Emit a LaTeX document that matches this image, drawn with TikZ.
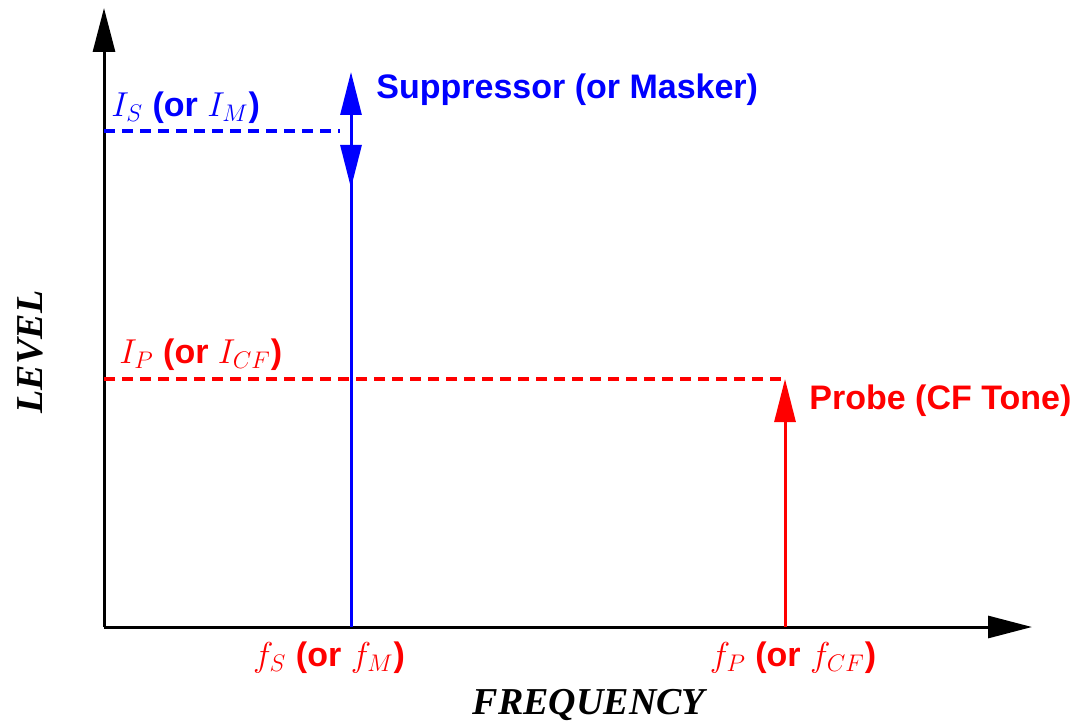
\documentclass[tikz,border=0pt]{standalone}
\usepackage{fontspec}
\usepackage{amsmath}
\setmainfont{Liberation Sans}
\newfontfamily\axisfont{Liberation Serif}
\usetikzlibrary{arrows.meta}

\definecolor{supblue}{RGB}{0,0,255}
\definecolor{probered}{RGB}{255,0,0}

\begin{document}
\begin{tikzpicture}[
  x=0.5pt, y=-0.5pt,
  axis/.style   = {line width=1.5pt, -{Triangle[length=22pt, width=11pt]}},
  tone/.style   = {line width=1.5pt, -{Triangle[length=21.5pt, width=10.5pt]}},
  level/.style  = {line width=1.6pt, dash pattern=on 5.5pt off 3.5pt},
  lbl/.style    = {font=\fontsize{17}{19}\selectfont\bfseries, inner sep=0pt},
  axlbl/.style  = {font=\fontsize{19}{21}\selectfont\axisfont\bfseries\itshape, inner sep=0pt},
]
\useasboundingbox (0,0) rectangle (1074,721);

% ---- axes ----
\coordinate (origin) at (104,627);
\coordinate (ytop)   at (104,8);
\coordinate (xend)   at (1032,627);
\draw[axis] (origin) -- (ytop);
\draw[axis] (origin) -- (xend);

% ---- suppressor (masker) ----
\coordinate (sbase) at (351,627);
\coordinate (stop)  at (351,72);
\coordinate (sdown) at (351,188);
\coordinate (slev)  at (104,131);
\coordinate (slevend) at (340,131);
\draw[tone, supblue] (sbase) -- (stop);
\draw[tone, supblue] (351,140) -- (sdown);
\draw[level, supblue] (slev) -- (slevend);

% ---- probe (CF tone) ----
\coordinate (pbase) at (785,627);
\coordinate (ptop)  at (785,379);
\coordinate (plev)  at (104,379);
\draw[tone, probered] (pbase) -- (ptop);
\draw[level, probered] (plev) -- (ptop);

% ---- labels ----
\node[lbl, supblue, anchor=west] (supname) at (376,90) {Suppressor (or Masker)};
\node[lbl, supblue, anchor=west] (suplev)  at (111,108) {$I_S$ (or $I_M$)};
\node[lbl, probered, anchor=west] (prbname) at (809,401) {Probe (CF Tone)};
\node[lbl, probered, anchor=west] (prblev)  at (119,355) {$I_P$ (or $I_{CF}$)};
\node[lbl, probered] (supfreq) at (329,658) {$f_S$ (or $f_M$)};
\node[lbl, probered] (prbfreq) at (793,658) {$f_P$ (or $f_{CF}$)};

% ---- axis titles ----
\node[axlbl, anchor=base] (xlbl) at (589,714) {FREQUENCY};
\node[axlbl, rotate=90] (ylbl) at (30,352) {LEVEL};

\end{tikzpicture}
\end{document}
